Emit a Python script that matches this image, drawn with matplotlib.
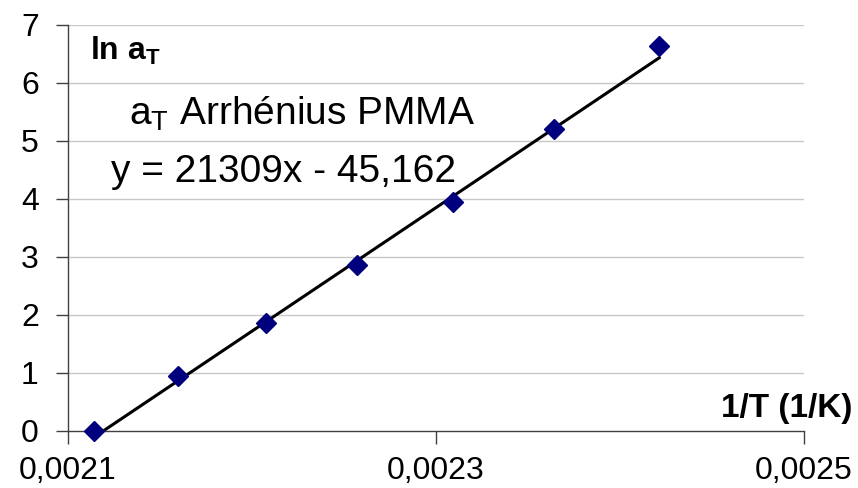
import matplotlib
matplotlib.use("Agg")
import matplotlib.pyplot as plt

plt.rcParams["font.family"] = ["Liberation Sans", "DejaVu Sans"]
plt.rcParams["mathtext.fontset"] = "custom"
plt.rcParams["mathtext.rm"] = "Liberation Sans"
plt.rcParams["mathtext.it"] = "Liberation Sans"
plt.rcParams["mathtext.bf"] = "Liberation Sans:bold"

inv_T = [0.0021142, 0.0021598, 0.0022075, 0.0022573, 0.0023095, 0.0023641, 0.0024213]
ln_aT = [0.0, 0.944, 1.858, 2.859, 3.94, 5.205, 6.64]

# trend line from the chart's equation
slope = 21309
intercept = -45.162

x_ticks = [0.0021, 0.0023, 0.0025]
x_tick_labels = ["0,0021", "0,0023", "0,0025"]
y_ticks = [0, 1, 2, 3, 4, 5, 6, 7]

fig = plt.figure(figsize=(8.58, 4.88), dpi=100)
ax = fig.add_axes([68 / 858, 1 - 430.7 / 488, (804 - 68) / 858, (430.7 - 25) / 488])

ax.set_xlim(0.0021, 0.0025)
ax.set_ylim(0, 7)

for yv in y_ticks[1:]:
    ax.axhline(yv, color="#c8c8c8", lw=1.0, zorder=0)

line_x = [inv_T[0], inv_T[-1]]
line_y = [slope * v + intercept for v in line_x]
ax.plot(line_x, line_y, color="black", lw=2.2, zorder=2)
ax.plot(inv_T, ln_aT, linestyle="none", marker="D", markersize=10.5,
        color="#00007f", zorder=3, clip_on=False)

ax.set_xticks(x_ticks)
ax.set_xticklabels(x_tick_labels)
ax.set_yticks(y_ticks)
ax.tick_params(axis="both", direction="out", length=9, width=1, color="#404040",
               labelsize=23)
ax.tick_params(axis="x", pad=9)
ax.tick_params(axis="y", pad=12)

for side in ["top", "right"]:
    ax.spines[side].set_visible(False)
for side in ["left", "bottom"]:
    ax.spines[side].set_color("#404040")
    ax.spines[side].set_linewidth(1)

fig.text(90 / 858, 1 - 60 / 488, r"$\mathbf{ln\ a_T}$", fontsize=23, ha="left", va="baseline")
fig.text(852 / 858, 1 - 417 / 488, "1/T (1/K)", fontsize=24, fontweight="bold",
         ha="right", va="baseline")
fig.text(302 / 858, 1 - 125 / 488, r"a$_\mathrm{T}$ Arrhénius PMMA", fontsize=28,
         ha="center", va="baseline")
fig.text(284 / 858, 1 - 182 / 488, "y = 21309x - 45,162", fontsize=28,
         ha="center", va="baseline")

fig.savefig("out.png", dpi=100, facecolor="white")
